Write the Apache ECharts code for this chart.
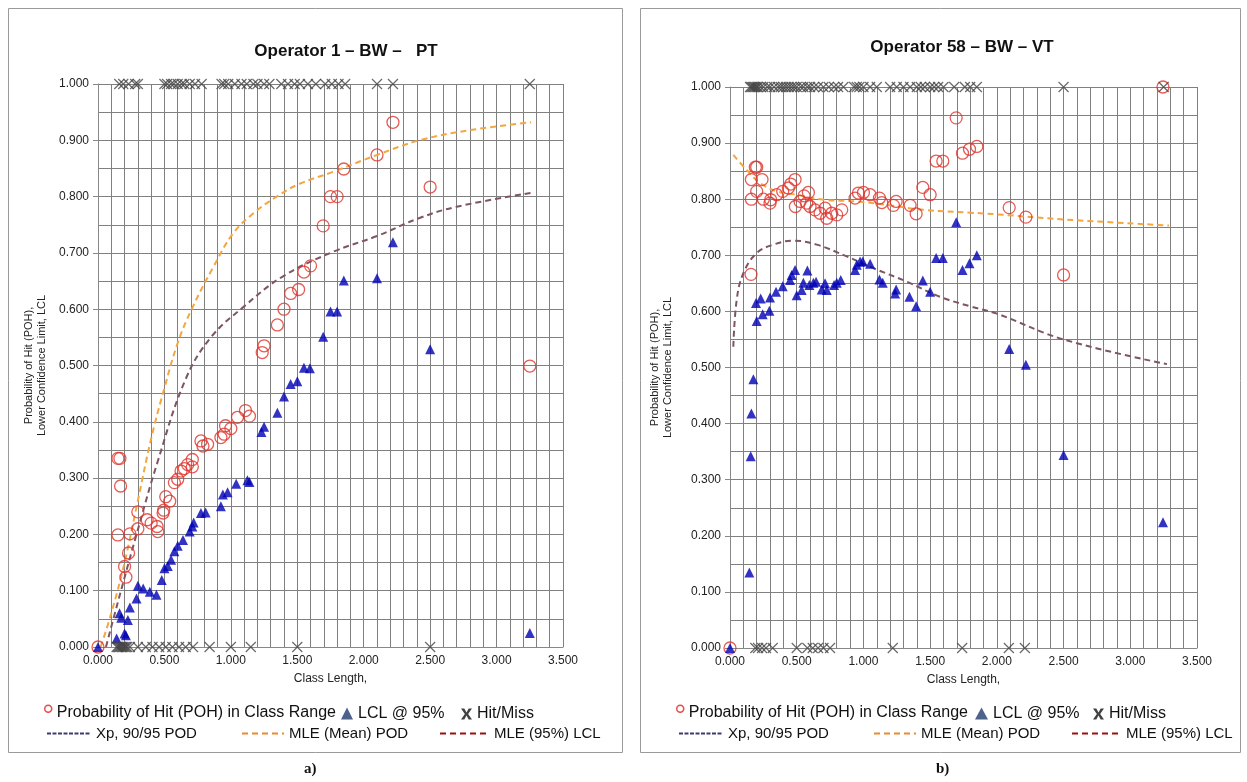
<!DOCTYPE html>
<html>
<head>
<meta charset="utf-8">
<script src="https://cdn.jsdelivr.net/npm/echarts@6/dist/echarts.min.js"></script>
<style>
  html, body { margin: 0; padding: 0; background: #fff; }
  #chart { width: 1247px; height: 782px; }
</style>
</head>
<body>
<div id="chart"></div>
<script>
// ---- panel a) Operator 1 - BW - PT ----
const pohA = [
  [0, 0], [0.15, 0.335], [0.165, 0.335], [0.17, 0.286], [0.15, 0.199], [0.24, 0.201], [0.23, 0.167],
  [0.2, 0.143], [0.21, 0.124], [0.3, 0.24], [0.3, 0.21], [0.37, 0.226], [0.4, 0.22], [0.445, 0.214],
  [0.45, 0.205], [0.49, 0.238], [0.495, 0.243], [0.51, 0.267], [0.54, 0.259], [0.575, 0.292],
  [0.6, 0.298], [0.625, 0.3125], [0.65, 0.317], [0.675, 0.324], [0.71, 0.333], [0.71, 0.32],
  [0.775, 0.366], [0.79, 0.357], [0.825, 0.36], [0.925, 0.372], [0.95, 0.378], [0.96, 0.393],
  [1.0, 0.388], [1.05, 0.408], [1.11, 0.42], [1.14, 0.41], [1.236, 0.523], [1.25, 0.535],
  [1.35, 0.572], [1.4, 0.6], [1.45, 0.628], [1.51, 0.635], [1.55, 0.666], [1.6, 0.677],
  [1.695, 0.748], [1.75, 0.8], [1.8, 0.8], [1.85, 0.849], [2.1, 0.874], [2.22, 0.932],
  [2.5, 0.817], [3.25, 0.499]
];
const lclA = [
  [0, 0], [0.14, 0.015], [0.1625, 0.06], [0.175, 0.052], [0.2, 0.024], [0.21, 0.021], [0.225, 0.048],
  [0.24, 0.07], [0.29, 0.086], [0.3, 0.109], [0.34, 0.104], [0.39, 0.098], [0.44, 0.093],
  [0.48, 0.119], [0.5, 0.14], [0.525, 0.144], [0.55, 0.155], [0.575, 0.17], [0.6, 0.18],
  [0.64, 0.19], [0.69, 0.205], [0.71, 0.214], [0.72, 0.221], [0.775, 0.238], [0.81, 0.239],
  [0.925, 0.25], [0.94, 0.271], [0.975, 0.275], [1.04, 0.29], [1.125, 0.296], [1.14, 0.293],
  [1.23, 0.382], [1.25, 0.391], [1.35, 0.416], [1.4, 0.445], [1.45, 0.467], [1.5, 0.472],
  [1.55, 0.496], [1.595, 0.495], [1.695, 0.551], [1.75, 0.596], [1.8, 0.596], [1.85, 0.651],
  [2.1, 0.655], [2.22, 0.719], [2.5, 0.529], [3.25, 0.025]
];
const hitsA = [0.16, 0.19, 0.23, 0.28, 0.3, 0.5, 0.52, 0.55, 0.57, 0.6, 0.63, 0.65, 0.69, 0.73, 0.78,
  0.93, 0.95, 0.98, 1.03, 1.08, 1.12, 1.17, 1.2, 1.25, 1.29, 1.38, 1.43, 1.48, 1.52, 1.58, 1.64,
  1.71, 1.76, 1.81, 1.86, 2.1, 2.22, 3.25];
const missesA = [0.14, 0.15, 0.16, 0.17, 0.18, 0.19, 0.2, 0.21, 0.22, 0.24, 0.3, 0.36, 0.41, 0.46,
  0.51, 0.56, 0.61, 0.66, 0.715, 0.84, 1.0, 1.15, 1.5, 2.5];
const meanPodA = [[0.02, 0], [0.1, 0.06], [0.2, 0.15], [0.3, 0.26], [0.4, 0.37], [0.5, 0.46],
  [0.6, 0.54], [0.705, 0.6], [0.868, 0.675], [1.018, 0.735], [1.168, 0.77], [1.345, 0.8],
  [1.52, 0.823], [1.77, 0.844], [2.1, 0.874], [2.42, 0.9], [2.8, 0.918], [3.26, 0.932]];
const lclCurveA = [[0.06, 0], [0.15, 0.08], [0.29, 0.2], [0.45, 0.33], [0.66, 0.476], [0.85, 0.55],
  [1.1, 0.605], [1.39, 0.658], [1.77, 0.702], [2.1, 0.73], [2.42, 0.762], [2.7, 0.782], [3.27, 0.807]];

// ---- panel b) Operator 58 - BW - VT ----
const pohB = [
  [0, 0], [0.1575, 0.666], [0.16, 0.8], [0.16, 0.835], [0.19, 0.857], [0.2, 0.857], [0.2, 0.814],
  [0.24, 0.835], [0.25, 0.8], [0.3, 0.793], [0.305, 0.799], [0.35, 0.808], [0.395, 0.814],
  [0.4375, 0.82], [0.455, 0.827], [0.4875, 0.835], [0.49, 0.787], [0.525, 0.796], [0.555, 0.806],
  [0.5875, 0.812], [0.575, 0.793], [0.6, 0.787], [0.6375, 0.781], [0.675, 0.775], [0.7125, 0.784],
  [0.725, 0.766], [0.7625, 0.775], [0.8, 0.772], [0.8375, 0.781], [0.9375, 0.802], [0.9625, 0.811],
  [1.0, 0.812], [1.05, 0.808], [1.12, 0.802], [1.1375, 0.794], [1.225, 0.789], [1.245, 0.796],
  [1.35, 0.789], [1.395, 0.774], [1.445, 0.821], [1.5, 0.808], [1.545, 0.868], [1.595, 0.868],
  [1.695, 0.945], [1.7425, 0.882], [1.795, 0.889], [1.85, 0.894], [2.0925, 0.785], [2.2175, 0.768],
  [2.5, 0.665], [3.245, 1.0]
];
const lclB = [
  [0, 0], [0.145, 0.1345], [0.155, 0.342], [0.16, 0.418], [0.175, 0.479], [0.2, 0.583], [0.245, 0.595],
  [0.295, 0.601], [0.195, 0.615], [0.23, 0.623], [0.3, 0.625], [0.345, 0.635], [0.395, 0.645],
  [0.45, 0.656], [0.4625, 0.665], [0.4875, 0.674], [0.5, 0.629], [0.5375, 0.638], [0.55, 0.651],
  [0.58, 0.673], [0.595, 0.647], [0.625, 0.651], [0.645, 0.653], [0.6875, 0.639], [0.7125, 0.65],
  [0.725, 0.638], [0.78, 0.647], [0.8, 0.651], [0.83, 0.656], [0.9375, 0.674], [0.95, 0.683],
  [0.975, 0.689], [0.995, 0.689], [1.05, 0.685], [1.12, 0.657], [1.145, 0.651], [1.2375, 0.632],
  [1.245, 0.639], [1.345, 0.626], [1.395, 0.609], [1.445, 0.655], [1.5, 0.635], [1.545, 0.695],
  [1.595, 0.695], [1.695, 0.759], [1.7425, 0.674], [1.795, 0.686], [1.85, 0.7], [2.0925, 0.533],
  [2.2175, 0.505], [2.5, 0.344], [3.245, 0.224]
];
const hitsB = [0.15, 0.16, 0.17, 0.18, 0.19, 0.2, 0.21, 0.23, 0.25, 0.28, 0.3, 0.33, 0.36, 0.38, 0.4,
  0.42, 0.44, 0.46, 0.48, 0.5, 0.53, 0.55, 0.58, 0.6, 0.63, 0.66, 0.7, 0.74, 0.78, 0.81, 0.85, 0.93,
  0.95, 0.97, 1.0, 1.05, 1.1, 1.2, 1.25, 1.3, 1.35, 1.4, 1.43, 1.46, 1.5, 1.53, 1.56, 1.6, 1.68,
  1.76, 1.8, 1.85, 2.5, 3.25];
const missesB = [0.19, 0.21, 0.24, 0.27, 0.32, 0.5, 0.58, 0.62, 0.66, 0.7, 0.75, 1.22, 1.74, 2.09, 2.21];
const meanPodB = [[0.025, 0.879], [0.125, 0.852], [0.225, 0.829], [0.35, 0.814], [0.5, 0.808],
  [0.7, 0.799], [0.95, 0.796], [1.2, 0.789], [1.45, 0.781], [1.8, 0.776], [2.0, 0.773], [2.5, 0.764],
  [3.29, 0.753]];
const lclCurveB = [[0.025, 0.537], [0.05, 0.62], [0.1, 0.668], [0.2, 0.704], [0.325, 0.719],
  [0.475, 0.726], [0.65, 0.719], [0.875, 0.698], [1.075, 0.677], [1.325, 0.653], [1.575, 0.626],
  [1.8, 0.609], [2.0, 0.596], [2.5, 0.55], [3.275, 0.506]];

const titles = ['Operator 1 \u2013 BW \u2013   PT', 'Operator 58 \u2013 BW \u2013 VT'];
const panelTags = ['a)', 'b)'];

const FONT = '"Liberation Sans", Arial, sans-serif';
const N_POH = 'Probability of Hit (POH) in Class Range';
const N_LCL = 'LCL @ 95%';
const N_HIT = 'Hit/Miss';
const N_XP = 'Xp, 90/95 POD';
const N_MEAN = 'MLE (Mean) POD';
const N_LCLC = 'MLE (95%) LCL';
const X_PATH = 'path://M0,0 L10,10 M10,0 L0,10';
const BOLD_X = 'path://M0,0H3L5,3.6L7,0H10L6.5,5L10,10H7L5,6.4L3,10H0L3.5,5Z';
// small raised "o": circle on top, empty point at the bottom keeps the box tall
const RAISED_O = 'path://M3.5,0A3.5,3.5,0,1,1,3.49,0ZM3.5,15L3.5,15';
const GRID_COLOR = '#808080';
// legend line icons: hide the symbol, keep the dashed line
const NO_SYMBOL = { color: 'rgba(0,0,0,0)', borderColor: 'rgba(0,0,0,0)', borderWidth: 0, opacity: 0 };

const chart = echarts.init(document.getElementById('chart'));

function xAxisCfg(gi) {
  return {
    gridIndex: gi, type: 'value', min: 0, max: 3.5, interval: 0.5,
    name: 'Class Length,', nameLocation: 'middle', nameGap: 26,
    nameTextStyle: { fontFamily: FONT, fontSize: 12, color: '#222' },
    axisLine: { onZero: false, lineStyle: { color: '#888' } },
    axisTick: { show: false },
    axisLabel: { fontFamily: FONT, fontSize: 12, color: '#222', margin: 8, formatter: v => v.toFixed(3) },
    splitLine: { show: true, lineStyle: { color: GRID_COLOR, width: 1 } },
    minorTick: { show: false, splitNumber: 5 },
    minorSplitLine: { show: true, lineStyle: { color: GRID_COLOR, width: 1 } }
  };
}
function yAxisCfg(gi, gap) {
  return {
    gridIndex: gi, type: 'value', min: 0, max: 1, interval: 0.1,
    name: 'Probability of Hit (POH),\nLower Confidence Limit, LCL',
    nameLocation: 'middle', nameGap: gap,
    nameTextStyle: { fontFamily: FONT, fontSize: 11, color: '#222', lineHeight: 13 },
    axisLine: { show: true, lineStyle: { color: '#888' } },
    axisTick: { show: true, length: 5, lineStyle: { color: '#888' } },
    axisLabel: { fontFamily: FONT, fontSize: 12, color: '#222', margin: 9, formatter: v => v.toFixed(3) },
    splitLine: { show: true, lineStyle: { color: GRID_COLOR, width: 1 } },
    minorTick: { show: false, splitNumber: 2 },
    minorSplitLine: { show: true, lineStyle: { color: GRID_COLOR, width: 1 } }
  };
}

function panelSeries(gi, poh, lcl, hits, misses, meanPod, lclCurve) {
  const base = { xAxisIndex: gi, yAxisIndex: gi };
  return [
    Object.assign({ type: 'line', name: N_XP, data: [], symbol: 'none',
      lineStyle: { color: '#3b3b6e', type: [5, 2], width: 2 } }, base),
    Object.assign({ type: 'line', name: N_MEAN, data: meanPod, smooth: 0.4, symbol: 'none',
      lineStyle: { color: '#f4a640', type: [6, 4], width: 2 }, z: 3 }, base),
    Object.assign({ type: 'line', name: N_LCLC, data: lclCurve, smooth: 0.4, symbol: 'none',
      lineStyle: { color: '#7d5563', type: [6, 4], width: 2 }, z: 3 }, base),
    Object.assign({ type: 'scatter', name: N_POH, data: poh, symbol: 'circle', symbolSize: 12,
      itemStyle: { color: 'rgba(255,255,255,0)', borderColor: '#e0322a', borderWidth: 1.3 }, z: 4 }, base),
    Object.assign({ type: 'scatter', name: N_LCL, data: lcl, symbol: 'triangle', symbolSize: 10,
      itemStyle: { color: '#0000b4' }, z: 5 }, base),
    Object.assign({ type: 'scatter', name: N_HIT,
      data: hits.map(x => [x, 1]).concat(misses.map(x => [x, 0])),
      symbol: X_PATH, symbolSize: 10,
      itemStyle: { color: 'rgba(0,0,0,0)', borderColor: '#444', borderWidth: 1.2 }, z: 6 }, base)
  ];
}

function legendItem(item, left, top, w, h, size) {
  return {
    left: left, top: top, itemWidth: w, itemHeight: h, selectedMode: false,
    padding: 0, itemGap: 0,
    textStyle: { fontFamily: FONT, fontSize: size, color: '#111' },
    data: [item]
  };
}
function panelLegends(dx, tri, triW) {
  const r1 = 705, r2 = 726;
  return [
    legendItem({ name: N_POH, icon: RAISED_O,
      itemStyle: { color: '#fff', borderColor: '#e0201c', borderWidth: 1.5 } }, 44 + dx, r1 - 0.5, 7, 15, 16),
    legendItem({ name: N_LCL, icon: 'triangle', itemStyle: { color: '#1f3b6e' } }, tri + dx, r1 + 0.5, triW, 12, 16),
    legendItem({ name: N_HIT, icon: BOLD_X, itemStyle: { color: '#111', borderWidth: 0 } }, 461 + dx, r1 + 1, 11, 11, 16),
    legendItem({ name: N_XP, itemStyle: NO_SYMBOL,
      lineStyle: { color: '#3b3b6e', type: [4, 1.5], width: 2 } }, 46 + dx, r2, 44, 14, 15),
    legendItem({ name: N_MEAN, itemStyle: NO_SYMBOL,
      lineStyle: { color: '#e98a2c', type: [6, 4], width: 2 } }, 241 + dx, r2, 42, 14, 15),
    legendItem({ name: N_LCLC, itemStyle: NO_SYMBOL,
      lineStyle: { color: '#9b1111', type: [6, 4], width: 2 } }, 439 + dx, r2, 49, 14, 15)
  ];
}

const option = {
  backgroundColor: '#fff',
  animation: false,
  title: [
    { text: titles[0], left: 341, top: 38, textAlign: 'center',
      textStyle: { fontFamily: FONT, fontSize: 17, fontWeight: 'bold', color: '#111' } },
    { text: titles[1], left: 957, top: 34, textAlign: 'center',
      textStyle: { fontFamily: FONT, fontSize: 17, fontWeight: 'bold', color: '#111' } }
  ],
  grid: [
    { left: 98, top: 84, width: 465, height: 563 },
    { left: 730, top: 87, width: 467, height: 561 }
  ],
  xAxis: [xAxisCfg(0), xAxisCfg(1)],
  yAxis: [yAxisCfg(0, 50), yAxisCfg(1, 56)],
  legend: panelLegends(0, 341, 12).concat(panelLegends(632, 343, 13)),
  series: panelSeries(0, pohA, lclA, hitsA, missesA, meanPodA, lclCurveA)
    .concat(panelSeries(1, pohB, lclB, hitsB, missesB, meanPodB, lclCurveB)),
  graphic: [
    { type: 'rect', shape: { x: 8.5, y: 8.5, width: 614, height: 744 },
      style: { fill: 'none', stroke: '#9a9a9a', lineWidth: 1 }, silent: true },
    { type: 'rect', shape: { x: 640.5, y: 8.5, width: 600, height: 744 },
      style: { fill: 'none', stroke: '#9a9a9a', lineWidth: 1 }, silent: true },
    { type: 'text', left: 304, top: 762,
      style: { text: panelTags[0], font: 'bold 15px "Liberation Serif", serif', fill: '#111' } },
    { type: 'text', left: 936, top: 762,
      style: { text: panelTags[1], font: 'bold 15px "Liberation Serif", serif', fill: '#111' } }
  ]
};

chart.setOption(option);
</script>
</body>
</html>
